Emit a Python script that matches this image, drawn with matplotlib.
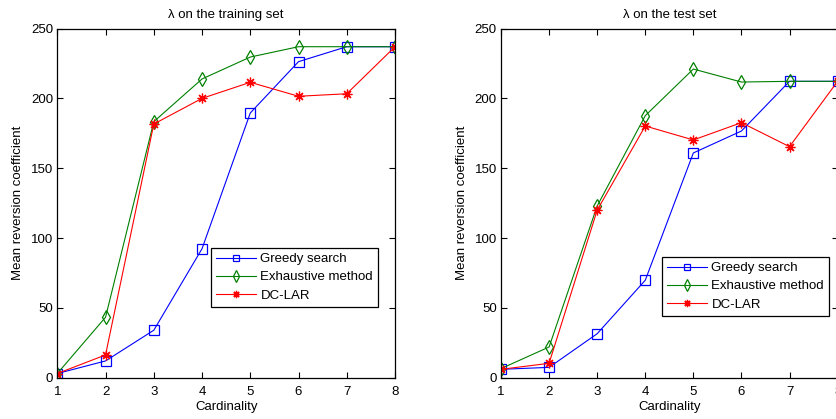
import matplotlib
matplotlib.use("Agg")
import matplotlib.pyplot as plt

plt.rcParams['font.family'] = ['Liberation Sans', 'DejaVu Sans']

cardinality = [1, 2, 3, 4, 5, 6, 7, 8]

# Mean reversion coefficient on the training set
train_greedy = [3, 12, 34, 92.4, 189.6, 226.4, 237.1, 237.1]
train_exhaustive = [3, 43.3, 183.4, 214, 229.7, 237.1, 237.1, 237.1]
train_dclar = [3, 16.3, 181.7, 200.1, 211.6, 201.6, 203.4, 237.1]

# Mean reversion coefficient on the test set
test_greedy = [6, 7.4, 31.5, 69.8, 161, 176.7, 212.3, 212.3]
test_exhaustive = [6.5, 22, 123, 187.7, 221.1, 211.8, 212.3, 212.3]
test_dclar = [6, 10.3, 120, 180.3, 170.3, 182.7, 165.5, 212.3]

series_names = ['Greedy search', 'Exhaustive method', 'DC-LAR']
titles = ['\u03bb on the training set', '\u03bb on the test set']
x_label = 'Cardinality'
y_label = 'Mean reversion coefficient'
y_ticks = [0, 50, 100, 150, 200, 250]

styles = [
    dict(color=(0, 0, 1), marker='s', markersize=6.5, mfc='none'),
    dict(color=(0, 0.5, 0), marker='d', markersize=7.5, mfc='none'),
    dict(color=(1, 0, 0), marker=(8, 2, 0), markersize=7),
]

W, H = 837, 419
fig = plt.figure(figsize=(W / 100, H / 100), dpi=100)

axes_px = [(57.3, 395.0), (501.0, 837.6)]
top_px, bottom_px = 28.7, 377.7
legend_px = [(211, 247.7), (662, 256.7)]

data = [
    (train_greedy, train_exhaustive, train_dclar),
    (test_greedy, test_exhaustive, test_dclar),
]

for i, (x0, x1) in enumerate(axes_px):
    ax = fig.add_axes([x0 / W, (H - bottom_px) / H, (x1 - x0) / W,
                       (bottom_px - top_px) / H])
    for vals, name, st in zip(data[i], series_names, styles):
        ax.plot(cardinality, vals, label=name, linewidth=0.8,
                markeredgewidth=0.9, **st)
    ax.set_xlim(1, 8)
    ax.set_ylim(0, 250)
    ax.set_xticks(cardinality)
    ax.set_yticks(y_ticks)
    ax.tick_params(direction='in', length=4, width=0.8, top=True,
                   right=True, labelsize=9.5, colors='black')
    ax.tick_params(axis='x', pad=6)
    ax.tick_params(axis='y', pad=3)
    for sp in ax.spines.values():
        sp.set_linewidth(0.9)
        sp.set_color('black')
    ax.set_title(titles[i], fontsize=9.5, pad=8)
    ax.set_xlabel(x_label, fontsize=9.5, labelpad=2)
    ax.set_ylabel(y_label, fontsize=9.5, labelpad=5)
    lx, ly = legend_px[i]
    leg = ax.legend(loc='upper left',
                    bbox_to_anchor=((lx - x0) / (x1 - x0),
                                    (bottom_px - ly) / (bottom_px - top_px)),
                    fontsize=9.5, frameon=True, fancybox=False,
                    edgecolor='black', framealpha=1, borderpad=0.4,
                    handlelength=3.0, handletextpad=0.35, labelspacing=0.45,
                    borderaxespad=0, markerscale=0.75)
    leg.get_frame().set_linewidth(0.9)

fig.savefig('out.png', dpi=100)
